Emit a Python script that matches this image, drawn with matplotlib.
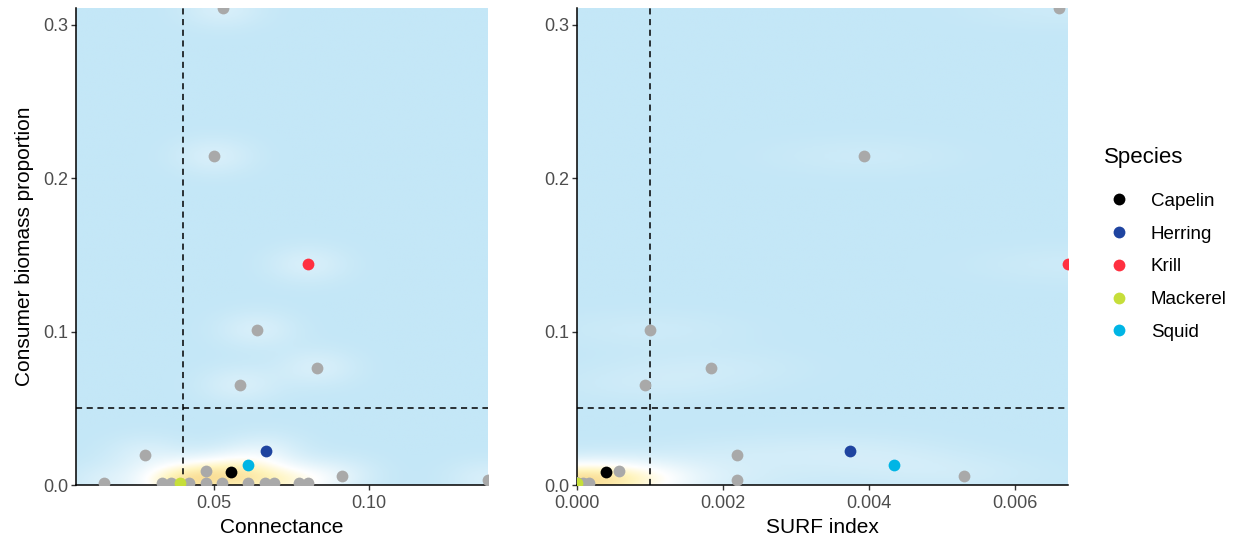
import matplotlib.pyplot as plt
import numpy as np
from matplotlib.colors import LinearSegmentedColormap
from matplotlib.lines import Line2D

plt.rcParams['font.family'] = ['Liberation Sans', 'DejaVu Sans']

# data
species = ['Other', 'Other', 'Krill', 'Other', 'Other', 'Other', 'Other',
           'Herring', 'Squid', 'Capelin', 'Other', 'Other', 'Other', 'Mackerel',
           'Other', 'Other', 'Other', 'Other', 'Other', 'Other', 'Other',
           'Other', 'Other', 'Other', 'Other']
connectance = [0.0528, 0.0499, 0.0803, 0.0638, 0.0583, 0.0833, 0.0279,
               0.0667, 0.0609, 0.0554, 0.0473, 0.0913, 0.1383, 0.0390,
               0.0144, 0.0333, 0.0360, 0.0419, 0.0473, 0.0527, 0.0611,
               0.0665, 0.0694, 0.0775, 0.0804]
surf_index = [0.00660, 0.00393, 0.00673, 0.00100, 0.00093, 0.00183, 0.00219,
              0.00374, 0.00434, 0.00040, 0.00058, 0.00531, 0.00219, 0.0,
              0.0, 0.00008, 0.00017, 0.0, 0.0, 0.0, 0.0,
              0.0, 0.0, 0.0, 0.0]
biomass = [0.311, 0.2147, 0.1438, 0.1011, 0.0650, 0.0762, 0.0197,
           0.0223, 0.0131, 0.0085, 0.0092, 0.0059, 0.0033, 0.0015,
           0.0015, 0.0015, 0.0015, 0.0015, 0.0015, 0.0015, 0.0015,
           0.0015, 0.0015, 0.0015, 0.0015]

species_order = ['Capelin', 'Herring', 'Krill', 'Mackerel', 'Squid']
species_colors = {'Capelin': '#000000', 'Herring': '#1F44A0', 'Krill': '#FF3040',
                  'Mackerel': '#C6DE3A', 'Squid': '#00B5E5', 'Other': '#A9A9A9'}

conn_threshold = 0.04
surf_threshold = 0.001
biomass_threshold = 0.05

density_cmap = LinearSegmentedColormap.from_list(
    'dens', [(0.0, '#C4E7F7'), (0.5, '#FFFFFF'), (0.78, '#FFF4BC'), (1.0, '#FADF98')])


def bandwidth_nrd(v):
    # same rule as MASS::bandwidth.nrd
    v = np.asarray(v)
    q75, q25 = np.percentile(v, [75, 25])
    return 4 * 1.06 * min(np.std(v, ddof=1), (q75 - q25) / 1.34) * len(v) ** (-0.2)


def draw_density(ax, x, y, xlim, ylim):
    x = np.asarray(x)
    y = np.asarray(y)
    sx = bandwidth_nrd(x) / 4
    sy = bandwidth_nrd(y) / 4
    gx = np.linspace(xlim[0], xlim[1], 250)
    gy = np.linspace(ylim[0], ylim[1], 250)
    zx = np.exp(-0.5 * ((gx[None, :] - x[:, None]) / sx) ** 2)
    zy = np.exp(-0.5 * ((gy[None, :] - y[:, None]) / sy) ** 2)
    dens = zy.T @ zx
    dens = dens / dens.max()
    ax.imshow(dens, origin='lower', extent=[xlim[0], xlim[1], ylim[0], ylim[1]],
              aspect='auto', cmap=density_cmap, interpolation='bilinear', zorder=0)


def draw_panel(ax, x, xlim, vline, xlabel, xticks, xfmt):
    ylim = (0, 0.311)
    draw_density(ax, x, biomass, xlim, ylim)
    ax.axvline(vline, color='black', linestyle=(0, (4, 3)), linewidth=1.1, zorder=1)
    ax.axhline(biomass_threshold, color='black', linestyle=(0, (4, 3)), linewidth=1.1, zorder=1)
    for sp in ['Other'] + species_order:
        xs = [xv for xv, s in zip(x, species) if s == sp]
        ys = [yv for yv, s in zip(biomass, species) if s == sp]
        ax.scatter(xs, ys, s=72, color=species_colors[sp], linewidths=0, zorder=3)
    ax.set_xlim(xlim)
    ax.set_ylim(ylim)
    ax.set_xticks(xticks)
    ax.set_xticklabels([xfmt.format(t) for t in xticks])
    ax.set_yticks([0, 0.1, 0.2, 0.3])
    ax.set_yticklabels(['0.0', '0.1', '0.2', '0.3'])
    ax.set_xlabel(xlabel, fontsize=15, color='black', labelpad=4.5)
    for side in ['top', 'right']:
        ax.spines[side].set_visible(False)
    for side in ['left', 'bottom']:
        ax.spines[side].set_linewidth(1.1)
    ax.tick_params(axis='both', labelsize=13, labelcolor='#4D4D4D', color='#333333',
                   length=3.5, width=1.0, pad=2)
    ax.tick_params(axis='x', pad=3.5)


fig = plt.figure(figsize=(12.36, 5.43), dpi=100)
ax1 = fig.add_axes([76 / 1236, 58 / 543, 412 / 1236, 477 / 543])
ax2 = fig.add_axes([577 / 1236, 58 / 543, 491 / 1236, 477 / 543])

draw_panel(ax1, connectance, (0.0055, 0.1383), conn_threshold, 'Connectance',
           [0.05, 0.10], '{:.2f}')
draw_panel(ax2, surf_index, (0.0, 0.00673), surf_threshold, 'SURF index',
           [0.0, 0.002, 0.004, 0.006], '{:.3f}')
ax1.set_ylabel('Consumer biomass proportion', fontsize=15, color='black', labelpad=7)

# legend title drawn apart so its gap to the entries can be set
fig.text(1104 / 1236, 1 - 158 / 543, 'Species', fontsize=16, ha='left', va='center')
handles = [Line2D([], [], marker='o', linestyle='none', markersize=8.5,
                  markerfacecolor=species_colors[sp], markeredgewidth=0)
           for sp in species_order]
fig.legend(handles, species_order, loc='upper left',
           bbox_to_anchor=(1087 / 1236, 1 - 176 / 543), frameon=False,
           fontsize=13.5, labelspacing=0.83,
           handletextpad=0.9, handlelength=1.6)

fig.savefig('out.png', dpi=100)
